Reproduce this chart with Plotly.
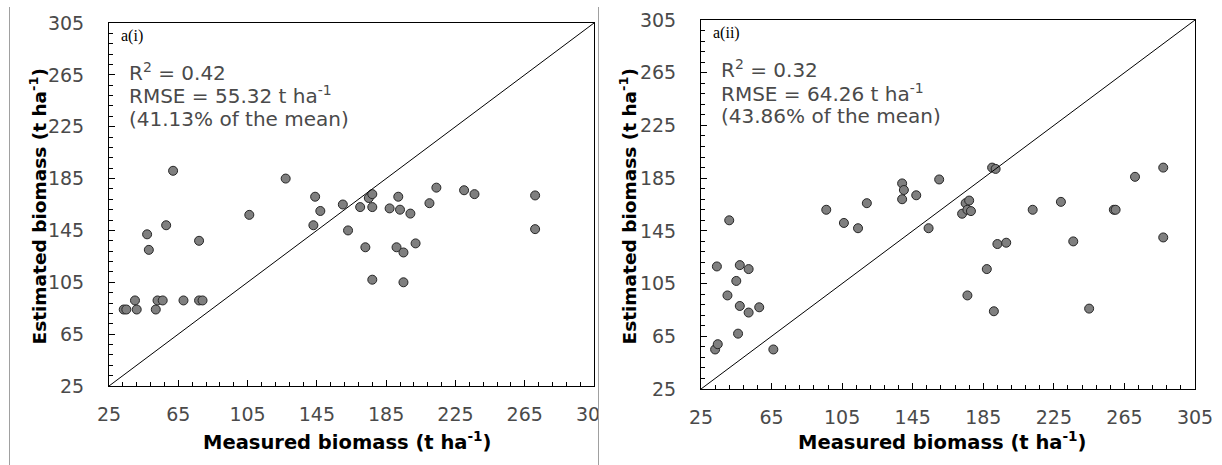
import plotly.graph_objects as go

W, H = 1222, 465

# ---- data: panel a(i) ----
meas_i = [47, 48, 58, 62, 77, 106, 127, 144, 147, 143, 160, 163, 170, 175, 177, 177,
          187, 192, 193, 199, 173, 191, 195, 202, 177, 195, 33.5, 35, 40, 41, 52, 53,
          56, 68, 77, 79, 210, 214, 230, 236, 271, 271]
est_i = [142, 130, 149, 191, 137, 157, 185, 171, 160, 149, 165, 145, 163, 170, 173, 163,
         162, 171, 161, 158, 132, 132, 128, 135, 107, 105, 84, 84, 91, 84, 84, 91,
         91, 91, 91, 91, 166, 178, 176, 173, 172, 146]

# ---- data: panel a(ii) ----
meas_ii = [41, 96, 106, 114, 119, 139, 140, 139, 147, 160, 154, 173, 175, 177, 176, 178,
           190, 192, 34, 47, 52, 45, 40, 47, 52, 58, 46, 33, 34.5, 66, 176, 191, 187,
           193, 198, 213, 229, 236, 245, 259, 260, 271, 287, 287]
est_ii = [153, 161, 151, 147, 166, 181, 176, 169, 172, 184, 147, 158, 166, 168, 161, 160,
          193, 192, 118, 119, 116, 107, 96, 88, 83, 87, 67, 55, 59, 55, 96, 84, 116,
          135, 136, 161, 167, 137, 86, 161, 161, 186, 193, 140]

axis_range = [25, 305]
tick_vals = [25, 65, 105, 145, 185, 225, 265, 305]
stats_i = ["R<sup>2</sup> = 0.42", "RMSE = 55.32 t ha<sup>-1</sup>", "(41.13% of the mean)"]
stats_ii = ["R<sup>2</sup> = 0.32", "RMSE = 64.26 t ha<sup>-1</sup>", "(43.86% of the mean)"]
panel_labels = ["a(i)", "a(ii)"]
x_title = "Measured biomass (t ha<sup>-1</sup>)"
y_title = "Estimated biomass (t ha<sup>-1</sup>)"

def px_x(p):
    return p / W

def px_y(p):
    return 1 - p / H

TICKFONT = dict(family="DejaVu Sans", size=19, color="#4a4a4a")
XTITLEFONT = dict(family="DejaVu Sans", size=19.5, color="black", weight="bold")
YTITLEFONT = dict(family="DejaVu Sans", size=18.5, color="black", weight="bold")
STATFONT = dict(family="DejaVu Sans", size=20, color="#4a4a4a")

fig = go.Figure()

marker = dict(size=9, color="#7f7f7f", line=dict(color="#262626", width=1))
fig.add_trace(go.Scatter(x=meas_i, y=est_i, mode="markers", marker=marker,
                         xaxis="x", yaxis="y", showlegend=False))
fig.add_trace(go.Scatter(x=meas_ii, y=est_ii, mode="markers", marker=marker,
                         xaxis="x2", yaxis="y2", showlegend=False))
# 1:1 lines
fig.add_trace(go.Scatter(x=axis_range, y=axis_range, mode="lines",
                         line=dict(color="black", width=1), xaxis="x", yaxis="y",
                         showlegend=False, hoverinfo="skip"))
fig.add_trace(go.Scatter(x=axis_range, y=axis_range, mode="lines",
                         line=dict(color="black", width=1), xaxis="x2", yaxis="y2",
                         showlegend=False, hoverinfo="skip"))

def ax(domain, anchor, standoff):
    return dict(domain=domain, anchor=anchor, range=axis_range, tickvals=tick_vals,
                ticks="inside", ticklen=6, tickwidth=1, tickcolor="black",
                minor=dict(dtick=8, tick0=25, ticks="inside", ticklen=4, tickcolor="black"),
                showline=True, linecolor="black", linewidth=1, mirror=True,
                showgrid=False, zeroline=False, tickfont=TICKFONT, automargin=False,
                ticklabelstandoff=standoff, fixedrange=True)

# pixel geometry of the two plot areas
L = dict(x0=109, x1=594, y0=23, y1=386)
R = dict(x0=701, x1=1195, y0=20, y1=389)

fig.update_layout(
    width=W, height=H, margin=dict(l=0, r=0, t=0, b=0, autoexpand=False),
    paper_bgcolor="white", plot_bgcolor="white",
    xaxis=ax([px_x(L["x0"]), px_x(L["x1"])], "y", 11),
    yaxis=ax([px_y(L["y1"]), px_y(L["y0"])], "x", 20),
    xaxis2=ax([px_x(R["x0"]), px_x(R["x1"])], "y2", 11),
    yaxis2=ax([px_y(R["y1"]), px_y(R["y0"])], "x2", 20),
)

ann = []
for P, xc_y, dx, stats, lab in [(L, 38, -4.5, stats_i, panel_labels[0]),
                                (R, 628, -6, stats_ii, panel_labels[1])]:
    cx = (P["x0"] + P["x1"]) / 2
    cy = (P["y0"] + P["y1"]) / 2
    ann.append(dict(text=x_title, x=px_x(cx + dx), y=px_y(441), xref="paper", yref="paper",
                    showarrow=False, font=XTITLEFONT, xanchor="center", yanchor="middle"))
    ann.append(dict(text=y_title, x=px_x(xc_y), y=px_y(cy + 2), xref="paper", yref="paper",
                    showarrow=False, font=YTITLEFONT, textangle=-90,
                    xanchor="center", yanchor="middle"))
    ann.append(dict(text=lab, x=px_x(P["x0"] + 10), y=px_y(P["y0"] + 13), xref="paper",
                    yref="paper", showarrow=False,
                    font=dict(family="Liberation Serif", size=16, color="black"),
                    xanchor="left", yanchor="middle"))
    for k, s in enumerate(stats):
        ann.append(dict(text=s, x=px_x(P["x0"] + 18), y=px_y(P["y0"] + 49 + 23.5 * k),
                        xref="paper", yref="paper", showarrow=False, font=STATFONT,
                        xanchor="left", yanchor="middle"))
fig.update_layout(annotations=ann)

shapes = [
    # white cover clipping the last x tick label of the left panel at the separator
    dict(type="rect", xref="paper", yref="paper", x0=px_x(599), x1=px_x(638),
         y0=px_y(430), y1=px_y(394), fillcolor="white", line=dict(width=0), layer="above"),
    dict(type="line", xref="paper", yref="paper", x0=px_x(9.5), x1=px_x(9.5),
         y0=px_y(7), y1=0, line=dict(color="#a0a0a0", width=1), layer="above"),
    dict(type="line", xref="paper", yref="paper", x0=px_x(598.5), x1=px_x(598.5),
         y0=px_y(7), y1=0, line=dict(color="#a0a0a0", width=1), layer="above"),
]
fig.update_layout(shapes=shapes)

fig.write_html("out.html")
